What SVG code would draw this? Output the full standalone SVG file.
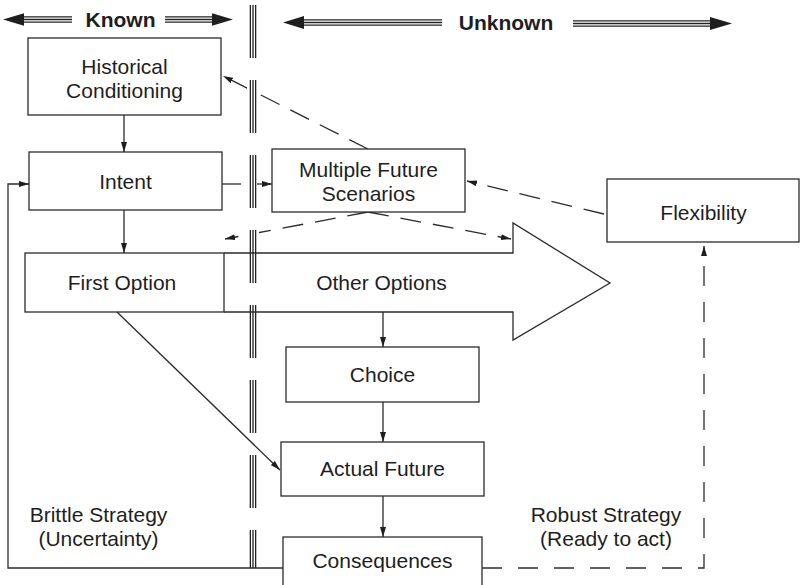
<svg xmlns="http://www.w3.org/2000/svg" width="801" height="585" viewBox="0 0 801 585">
  <defs>
    <style>
      .box { fill: #fff; stroke: #2b2b2b; stroke-width: 1.3; }
      .line { fill: none; stroke: #2b2b2b; stroke-width: 1.3; }
      .dash { fill: none; stroke: #2b2b2b; stroke-width: 1.3; stroke-dasharray: 21 12; }
      .vdash { fill: none; stroke: #2b2b2b; stroke-width: 1.3; stroke-dasharray: 20 16; }
      .label { font-family: "Liberation Sans", Arial, Helvetica, sans-serif; font-size: 21px; fill: #1e1e1e; text-anchor: middle; }
      .head { font-family: "Liberation Sans", Arial, Helvetica, sans-serif; font-size: 21px; font-weight: bold; fill: #1e1e1e; text-anchor: middle; }
      .tri-outer { stroke: #222; stroke-width: 6.6; fill: none; }
      .tri-mid { stroke: #fff; stroke-width: 4; fill: none; }
      .tri-inner { stroke: #222; stroke-width: 1.3; fill: none; }
      .tip { fill: #1e1e1e; }
    </style>
    <marker id="arrow" viewBox="0 0 10 6" refX="10" refY="3" markerWidth="10" markerHeight="6" markerUnits="userSpaceOnUse" orient="auto">
      <path d="M0,0 L10,3 L0,6 z" fill="#1e1e1e"/>
    </marker>
  </defs>

  <rect width="801" height="585" fill="#fff"/>

  <!-- header: Known / Unknown with triple-line arrows -->
  <g id="header">
    <g>
      <line class="tri-outer" x1="21" y1="19.5" x2="72" y2="19.5"/>
      <line class="tri-mid" x1="21" y1="19.5" x2="72" y2="19.5"/>
      <line class="tri-inner" x1="21" y1="19.5" x2="72" y2="19.5"/>
      <polygon class="tip" points="3,19.5 24,13.3 24,25.7"/>
    </g>
    <text class="head" x="120.5" y="27">Known</text>
    <g>
      <line class="tri-outer" x1="165" y1="19.5" x2="215" y2="19.5"/>
      <line class="tri-mid" x1="165" y1="19.5" x2="215" y2="19.5"/>
      <line class="tri-inner" x1="165" y1="19.5" x2="215" y2="19.5"/>
      <polygon class="tip" points="233,19.5 212,13.3 212,25.7"/>
    </g>
    <g>
      <line class="tri-outer" x1="301" y1="22.5" x2="442" y2="22.5"/>
      <line class="tri-mid" x1="301" y1="22.5" x2="442" y2="22.5"/>
      <line class="tri-inner" x1="301" y1="22.5" x2="442" y2="22.5"/>
      <polygon class="tip" points="283,22.5 304,16 304,29"/>
    </g>
    <text class="head" x="506" y="30">Unknown</text>
    <g>
      <line class="tri-outer" x1="573" y1="23.5" x2="714" y2="23.5"/>
      <line class="tri-mid" x1="573" y1="23.5" x2="714" y2="23.5"/>
      <line class="tri-inner" x1="573" y1="23.5" x2="714" y2="23.5"/>
      <polygon class="tip" points="732,23.5 710,17 710,30"/>
    </g>
  </g>

  <!-- dashed connectors (drawn beneath the divider) -->
  <g id="connectors-dashed">
    <line class="dash" x1="368" y1="149" x2="223" y2="76" marker-end="url(#arrow)"/>
    <line class="dash" x1="604" y1="214" x2="467" y2="181" marker-end="url(#arrow)"/>
    <line class="dash" x1="368" y1="212" x2="225" y2="239" marker-end="url(#arrow)"/>
    <line class="dash" x1="368" y1="212" x2="511" y2="239" marker-end="url(#arrow)"/>
    <polyline class="vdash" points="482,568 704,568 704,246" marker-end="url(#arrow)"/>
  </g>

  <!-- broken triple divider between known and unknown -->
  <g id="divider">
    <line x1="253" y1="5" x2="253" y2="568" stroke="#fff" stroke-width="12" stroke-dasharray="53 22"/>
    <line class="tri-outer" x1="253" y1="5" x2="253" y2="568" stroke-width="6.2" stroke-dasharray="53 22"/>
    <line class="tri-mid" x1="253" y1="5" x2="253" y2="568" stroke-width="3.8" stroke-dasharray="53 22"/>
    <line class="tri-inner" x1="253" y1="5" x2="253" y2="568" stroke-width="1.2" stroke-dasharray="53 22"/>
  </g>

  <g id="historical">
    <rect class="box" x="28" y="38" width="193" height="77"/>
    <text class="label" x="124.5" y="74">Historical</text>
    <text class="label" x="124.5" y="98">Conditioning</text>
  </g>

  <g id="intent">
    <rect class="box" x="29" y="152" width="193" height="58"/>
    <text class="label" x="125.5" y="189">Intent</text>
  </g>

  <g id="scenarios">
    <rect class="box" x="272" y="149" width="193" height="63"/>
    <text class="label" x="368.5" y="177">Multiple Future</text>
    <text class="label" x="368.5" y="201">Scenarios</text>
  </g>

  <g id="flexibility">
    <rect class="box" x="607" y="179" width="192" height="63"/>
    <text class="label" x="703.5" y="220">Flexibility</text>
  </g>

  <g id="first-option">
    <rect class="box" x="25" y="253" width="199" height="59"/>
    <text class="label" x="122" y="290">First Option</text>
  </g>

  <g id="other-options">
    <polyline class="line" points="224,253 513,253 513,223 610,283 513,340 513,312 224,312"/>
    <text class="label" x="381.5" y="290">Other Options</text>
  </g>

  <g id="choice">
    <rect class="box" x="286" y="347" width="193" height="55"/>
    <text class="label" x="382.5" y="382">Choice</text>
  </g>

  <g id="actual-future">
    <rect class="box" x="281" y="442" width="203" height="54"/>
    <text class="label" x="382.5" y="476">Actual Future</text>
  </g>

  <g id="consequences">
    <rect class="box" x="283" y="537" width="199" height="60"/>
    <text class="label" x="382.5" y="568">Consequences</text>
  </g>

  <g id="brittle">
    <text class="label" x="98.5" y="522">Brittle Strategy</text>
    <text class="label" x="98.5" y="546">(Uncertainty)</text>
  </g>

  <g id="robust">
    <text class="label" x="606" y="522">Robust Strategy</text>
    <text class="label" x="606" y="546">(Ready to act)</text>
  </g>

  <!-- solid connectors -->
  <g id="connectors">
    <line class="line" x1="124" y1="115" x2="124" y2="152" marker-end="url(#arrow)"/>
    <line class="line" x1="124" y1="210" x2="124" y2="253" marker-end="url(#arrow)"/>
    <line class="line" x1="222" y1="184" x2="241" y2="184"/>
    <line class="line" x1="257" y1="184" x2="272" y2="184" marker-end="url(#arrow)"/>
    <line class="line" x1="383" y1="312" x2="383" y2="347" marker-end="url(#arrow)"/>
    <line class="line" x1="383" y1="402" x2="383" y2="442" marker-end="url(#arrow)"/>
    <line class="line" x1="383" y1="496" x2="383" y2="537" marker-end="url(#arrow)"/>
    <line class="line" x1="117" y1="312" x2="280" y2="470" marker-end="url(#arrow)"/>
    <polyline class="line" points="283,568 8,568 8,184 29,184" marker-end="url(#arrow)"/>
  </g>
</svg>
